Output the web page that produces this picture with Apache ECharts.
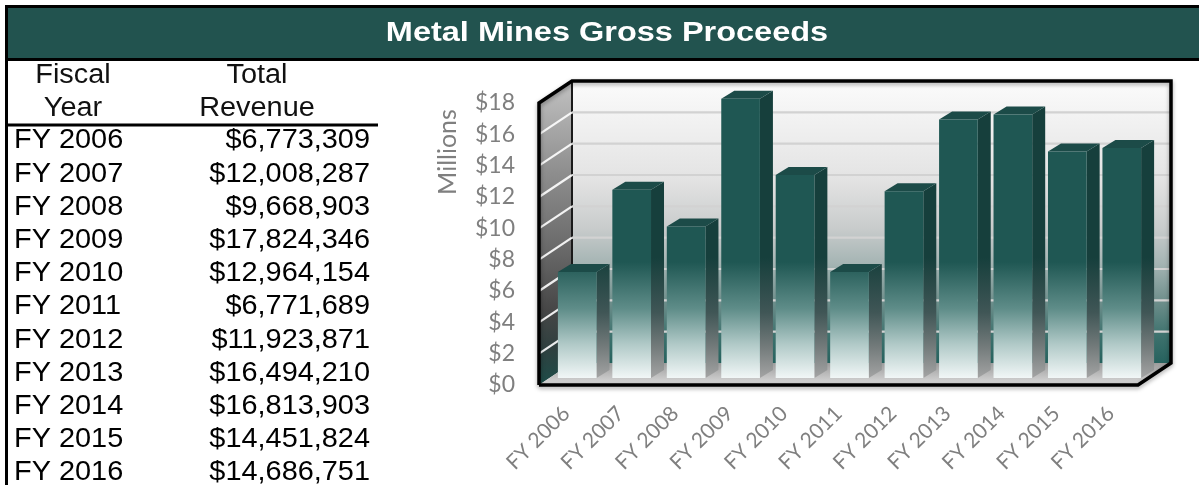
<!DOCTYPE html>
<html>
<head>
<meta charset="utf-8">
<script src="https://cdn.jsdelivr.net/npm/echarts@6/dist/echarts.min.js"></script>
<style>
  html, body { margin: 0; padding: 0; background: #ffffff; }
  #chart { width: 1199px; height: 485px; }
</style>
</head>
<body>
<div id="chart"></div>
<script>
// ---- data ----
const titleText = 'Metal Mines Gross Proceeds';
const fiscalYears = ['FY 2006', 'FY 2007', 'FY 2008', 'FY 2009', 'FY 2010', 'FY 2011',
                     'FY 2012', 'FY 2013', 'FY 2014', 'FY 2015', 'FY 2016'];
const totalRevenue = [6773309, 12008287, 9668903, 17824346, 12964154, 6771689,
                      11923871, 16494210, 16813903, 14451824, 14686751];
const valueTicks = [0, 2, 4, 6, 8, 10, 12, 14, 16, 18];
const headerYear = ['Fiscal', 'Year'];
const headerRevenue = ['Total', 'Revenue'];
const axisUnit = 'Millions';

// ---- layout / style ----
const GRID = { left: 539, top: 103, width: 599, height: 282 };
const DEPTH = [33, -22];        // front plane -> back wall offset
const BAR_SHIFT = [11, -7];     // bars sit a third of the way back
const BAR_DEPTH = [13, -8];
const BAR_RATIO = 0.71;
const TEAL = '#22534f';
const AXIS_GREY = '#7f7f7f';

const G = echarts.graphic;
const yTop = GRID.top + DEPTH[1];
const yFloor = GRID.top + GRID.height;

const backWallFill = new G.LinearGradient(0, yTop, 0, yFloor + DEPTH[1], [
  { offset: 0, color: '#fbfbfb' },
  { offset: 0.35, color: '#e3e3e3' },
  { offset: 0.52, color: '#c9cccc' },
  { offset: 0.65, color: '#a4b4b3' },
  { offset: 0.78, color: '#6f8f8c' },
  { offset: 0.9, color: '#3e726e' },
  { offset: 1, color: '#26625e' }
], true);
const leftWallFill = new G.LinearGradient(0, yTop, 0, yFloor, [
  { offset: 0, color: '#c2c2c2' },
  { offset: 0.3, color: '#8e8e8e' },
  { offset: 0.55, color: '#6a6a6a' },
  { offset: 0.75, color: '#474747' },
  { offset: 0.88, color: '#2f403f' },
  { offset: 1, color: '#1d4d49' }
], true);
const floorFill = new G.LinearGradient(0, yFloor + DEPTH[1], 0, yFloor, [
  { offset: 0, color: '#9c9c9c' },
  { offset: 1, color: '#dadada' }
], true);
const frontFill = new G.LinearGradient(0, 262, 0, 379, [
  { offset: 0, color: '#1f5753' },
  { offset: 0.4, color: '#5f8d89' },
  { offset: 0.7, color: '#b0c9c7' },
  { offset: 1, color: '#f3f8f8' }
], true);
const sideFill = new G.LinearGradient(0, 258, 0, 379, [
  { offset: 0, color: '#163f3c' },
  { offset: 0.45, color: '#405656' },
  { offset: 0.73, color: '#727a7a' },
  { offset: 1, color: '#a5a5a5' }
], true);
const topFill = '#1c4b48';

const fmtMoney = n => '$' + n.toLocaleString('en-US');

// ---- page graphics: title band and table ----
const TABLE_FONT = '27px "Liberation Sans", Arial, sans-serif';
const TABLE_SCALE = 1.07;
const ROW0 = 141, ROW_STEP = 33.2;

const pageGraphics = [
  { type: 'rect', shape: { x: 5, y: 8, width: 1194, height: 50 }, style: { fill: TEAL } },
  { type: 'line', shape: { x1: 5, y1: 6.5, x2: 1199, y2: 6.5 }, style: { stroke: '#000', lineWidth: 3 } },
  { type: 'line', shape: { x1: 5, y1: 59.5, x2: 1199, y2: 59.5 }, style: { stroke: '#000', lineWidth: 3 } },
  { type: 'line', shape: { x1: 6.5, y1: 5, x2: 6.5, y2: 485 }, style: { stroke: '#000', lineWidth: 3 } },
  { type: 'line', shape: { x1: 6, y1: 125, x2: 378, y2: 125 }, style: { stroke: '#000', lineWidth: 3 } },
  {
    type: 'text', x: 607, y: 33, scaleX: 1.16,
    style: { text: titleText, font: 'bold 28px "Liberation Sans", Arial, sans-serif',
             fill: '#ffffff', align: 'center', verticalAlign: 'middle' }
  },
  {
    type: 'text', x: 448, y: 152, rotation: Math.PI / 2,
    style: { text: axisUnit, font: '25px Lato, sans-serif', fill: AXIS_GREY,
             align: 'center', verticalAlign: 'middle' }
  }
];
[headerYear, headerRevenue].forEach((lines, c) => {
  lines.forEach((t, r) => {
    pageGraphics.push({
      type: 'text', x: c === 0 ? 73 : 257, y: 76 + r * 33, scaleX: TABLE_SCALE,
      style: { text: t, font: TABLE_FONT, fill: '#111', align: 'center', verticalAlign: 'middle' }
    });
  });
});
fiscalYears.forEach((fy, i) => {
  const y = ROW0 + i * ROW_STEP;
  pageGraphics.push({
    type: 'text', x: 14, y: y, scaleX: TABLE_SCALE,
    style: { text: fy, font: TABLE_FONT, fill: '#000', align: 'left', verticalAlign: 'middle' }
  });
  pageGraphics.push({
    type: 'text', x: 370, y: y, scaleX: TABLE_SCALE,
    style: { text: fmtMoney(totalRevenue[i]), font: TABLE_FONT, fill: '#000', align: 'right', verticalAlign: 'middle' }
  });
});

// ---- chart ----
const chart = echarts.init(document.getElementById('chart'), null, { renderer: 'canvas' });

const pt = (p, d) => [p[0] + d[0], p[1] + d[1]];

chart.setOption({
  animation: false,
  backgroundColor: '#ffffff',
  graphic: { elements: pageGraphics },
  grid: { left: GRID.left, top: GRID.top, width: GRID.width, height: GRID.height, containLabel: false },
  xAxis: {
    type: 'category',
    data: fiscalYears,
    axisLine: { show: false },
    axisTick: { show: false },
    splitLine: { show: false },
    axisLabel: { interval: 0, rotate: 45, margin: 25, color: AXIS_GREY,
                 fontFamily: 'Lato, sans-serif', fontSize: 21 }
  },
  yAxis: {
    type: 'value',
    min: valueTicks[0],
    max: valueTicks[valueTicks.length - 1],
    interval: valueTicks[1] - valueTicks[0],
    axisLine: { show: false },
    axisTick: { show: false },
    splitLine: { show: false },
    axisLabel: { margin: 24, color: AXIS_GREY, fontFamily: 'Lato, sans-serif', fontSize: 23,
                 formatter: v => '$' + v }
  },
  series: [
    {
      // walls and floor of the 3D box
      type: 'custom', z: 1, silent: true,
      data: [[0, 0]],
      renderItem: (params, api) => {
        const cs = params.coordSys;
        const fl = [cs.x, cs.y + cs.height], ft = [cs.x, cs.y];
        const fr = [cs.x + cs.width, cs.y + cs.height];
        const bl = pt(fl, DEPTH), bt = pt(ft, DEPTH), br = pt(fr, DEPTH);
        const btr = [br[0], bt[1]];
        return {
          type: 'group',
          children: [
            { type: 'polygon', shape: { points: [bt, btr, br, bl] }, style: { fill: backWallFill } },
            { type: 'polygon', shape: { points: [ft, bt, bl, fl] }, style: { fill: leftWallFill } },
            { type: 'polygon', shape: { points: [fl, bl, br, fr] }, style: { fill: floorFill } },
            { type: 'line', shape: { x1: bt[0], y1: bt[1], x2: bl[0], y2: bl[1] },
              style: { stroke: '#1a1a1a', lineWidth: 2 } }
          ]
        };
      }
    },
    {
      // gridlines on the back wall and the left wall
      type: 'custom', z: 2, silent: true,
      data: valueTicks.slice(1, -1).map(v => [0, v]),
      renderItem: (params, api) => {
        const cs = params.coordSys;
        const y = api.coord([0, api.value(1)])[1];
        const f = [cs.x, y], b = pt(f, DEPTH);
        return {
          type: 'group',
          children: [
            { type: 'line', shape: { x1: b[0], y1: b[1], x2: cs.x + cs.width + DEPTH[0], y2: b[1] },
              style: { stroke: '#d2d2d2', lineWidth: 2.2 } },
            { type: 'line', shape: { x1: f[0], y1: f[1], x2: b[0], y2: b[1] },
              style: { stroke: 'rgba(255,255,255,0.9)', lineWidth: 2.2 } }
          ]
        };
      }
    },
    {
      // revenue bars, in millions
      type: 'custom', z: 3, name: 'Total Revenue',
      data: totalRevenue.map((r, i) => [i, r / 1e6]),
      encode: { x: 0, y: 1 },
      renderItem: (params, api) => {
        const i = api.value(0), v = api.value(1);
        const base = api.coord([i, 0]), top = api.coord([i, v]);
        const w = api.size([1, 0])[0] * BAR_RATIO;
        const xl = base[0] + BAR_SHIFT[0] - w / 2, xr = xl + w;
        const yb = base[1] + BAR_SHIFT[1], yt = top[1] + BAR_SHIFT[1];
        const [sx, sy] = BAR_DEPTH;
        return {
          type: 'group',
          children: [
            { type: 'polygon', shape: { points: [[xr, yt], [xr + sx, yt + sy], [xr + sx, yb + sy], [xr, yb]] },
              style: { fill: sideFill } },
            { type: 'polygon', shape: { points: [[xl, yt], [xl + sx, yt + sy], [xr + sx, yt + sy], [xr, yt]] },
              style: { fill: topFill } },
            { type: 'rect', shape: { x: xl, y: yt, width: w, height: yb - yt }, style: { fill: frontFill } }
          ]
        };
      }
    },
    {
      // outline of the box
      type: 'custom', z: 4, silent: true,
      data: [[0, 0]],
      renderItem: (params, api) => {
        const cs = params.coordSys;
        const fl = [cs.x, cs.y + cs.height], ft = [cs.x, cs.y];
        const fr = [cs.x + cs.width, cs.y + cs.height];
        const bt = pt(ft, DEPTH), br = pt(fr, DEPTH);
        const btr = [br[0], bt[1]];
        return {
          type: 'polyline',
          shape: { points: [fl, ft, bt, btr, br, fr, fl] },
          style: { stroke: '#000', lineWidth: 3.5, fill: null, lineJoin: 'miter',
                   shadowColor: 'rgba(0,0,0,0.35)', shadowBlur: 4, shadowOffsetY: 2 }
        };
      }
    }
  ]
});
</script>
</body>
</html>
